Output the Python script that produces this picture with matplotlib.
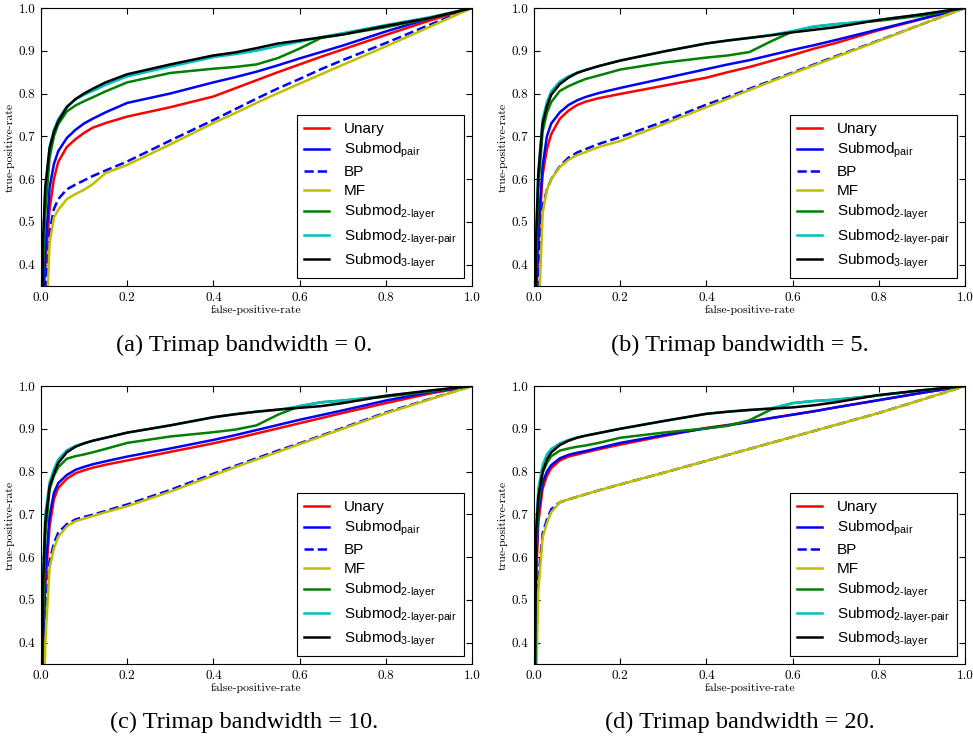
import matplotlib
matplotlib.use("Agg")
import matplotlib.pyplot as plt

plt.rcParams['mathtext.fontset'] = 'custom'
plt.rcParams['mathtext.rm'] = 'Liberation Sans'
plt.rcParams['mathtext.it'] = 'Liberation Sans'
plt.rcParams['axes.formatter.use_mathtext'] = False

# common false-positive-rate grid shared by every curve
fpr = [0, 0.005, 0.01, 0.02, 0.03, 0.04, 0.06, 0.08, 0.1, 0.12, 0.15, 0.2,
       0.3, 0.4, 0.45, 0.5, 0.55, 0.6, 0.65, 0.7, 0.8, 0.9, 1.0]

labels = ['Unary', 'Submod$_{\\mathrm{pair}}$', 'BP', 'MF',
          'Submod$_{\\text{2-layer}}$', 'Submod$_{\\text{2-layer-pair}}$',
          'Submod$_{\\text{3-layer}}$']
colors = ['r', 'b', 'b', 'y', 'g', 'c', 'k']
styles = ['-', '-', '--', '-', '-', '-', '-']

captions = ['(a) Trimap bandwidth = 0.', '(b) Trimap bandwidth = 5.',
            '(c) Trimap bandwidth = 10.', '(d) Trimap bandwidth = 20.']

# (a) bandwidth 0
a_unary = [0, 0.30, 0.40, 0.53, 0.60, 0.64, 0.675, 0.693, 0.708, 0.72, 0.731, 0.746,
           0.768, 0.793, 0.812, 0.831, 0.85, 0.868, 0.886, 0.903, 0.937, 0.970, 1.0]
a_pair = [0, 0.33, 0.43, 0.58, 0.635, 0.665, 0.696, 0.715, 0.73, 0.741, 0.756, 0.778,
          0.80, 0.826, 0.838, 0.851, 0.866, 0.882, 0.897, 0.912, 0.945, 0.975, 1.0]
a_bp = [0, 0.20, 0.33, 0.477, 0.53, 0.553, 0.576, 0.587, 0.597, 0.607, 0.62, 0.641,
        0.69, 0.738, 0.763, 0.788, 0.812, 0.834, 0.857, 0.878, 0.918, 0.96, 1.0]
a_mf = [0, 0.05, 0.20, 0.45, 0.51, 0.528, 0.553, 0.565, 0.575, 0.588, 0.614, 0.633,
        0.681, 0.731, 0.754, 0.778, 0.801, 0.823, 0.845, 0.867, 0.91, 0.955, 1.0]
a_two = [0, 0.40, 0.52, 0.65, 0.70, 0.728, 0.758, 0.772, 0.782, 0.791, 0.805, 0.826,
         0.848, 0.858, 0.862, 0.868, 0.883, 0.905, 0.93, 0.938, 0.955, 0.975, 1.0]
a_twopair = [0, 0.45, 0.58, 0.675, 0.715, 0.74, 0.77, 0.786, 0.797, 0.806, 0.82, 0.84,
             0.863, 0.885, 0.892, 0.90, 0.911, 0.921, 0.932, 0.941, 0.96, 0.978, 1.0]
a_three = [0, 0.46, 0.58, 0.672, 0.71, 0.735, 0.768, 0.787, 0.80, 0.811, 0.826, 0.845,
           0.868, 0.889, 0.896, 0.906, 0.917, 0.924, 0.931, 0.938, 0.958, 0.976, 1.0]

# (b) bandwidth 5
b_unary = [0, 0.30, 0.45, 0.61, 0.67, 0.705, 0.741, 0.76, 0.773, 0.781, 0.789, 0.799,
           0.818, 0.837, 0.85, 0.862, 0.876, 0.89, 0.905, 0.918, 0.948, 0.974, 1.0]
b_pair = [0, 0.33, 0.48, 0.63, 0.70, 0.73, 0.756, 0.773, 0.784, 0.792, 0.801, 0.813,
          0.835, 0.857, 0.868, 0.878, 0.89, 0.902, 0.913, 0.925, 0.95, 0.975, 1.0]
b_bp = [0, 0.25, 0.40, 0.535, 0.575, 0.60, 0.63, 0.65, 0.662, 0.67, 0.682, 0.698,
        0.734, 0.774, 0.792, 0.811, 0.83, 0.849, 0.868, 0.887, 0.924, 0.962, 1.0]
b_mf = [0, 0.05, 0.25, 0.52, 0.575, 0.60, 0.628, 0.645, 0.656, 0.663, 0.675, 0.689,
        0.728, 0.768, 0.788, 0.808, 0.828, 0.847, 0.866, 0.885, 0.923, 0.962, 1.0]
b_two = [0, 0.40, 0.58, 0.711, 0.755, 0.78, 0.806, 0.817, 0.826, 0.834, 0.842, 0.856,
         0.872, 0.884, 0.889, 0.897, 0.922, 0.945, 0.956, 0.962, 0.97, 0.982, 1.0]
b_twopair = [0, 0.47, 0.62, 0.74, 0.78, 0.805, 0.828, 0.84, 0.849, 0.855, 0.864, 0.877,
             0.898, 0.917, 0.924, 0.93, 0.937, 0.946, 0.957, 0.962, 0.972, 0.985, 1.0]
b_three = [0, 0.46, 0.61, 0.73, 0.77, 0.797, 0.822, 0.837, 0.848, 0.855, 0.864, 0.877,
           0.898, 0.917, 0.924, 0.93, 0.936, 0.943, 0.949, 0.955, 0.972, 0.985, 1.0]

# (c) bandwidth 10
c_unary = [0, 0.38, 0.53, 0.672, 0.735, 0.762, 0.783, 0.796, 0.803, 0.809, 0.816, 0.826,
           0.846, 0.866, 0.877, 0.889, 0.901, 0.913, 0.925, 0.937, 0.96, 0.982, 1.0]
c_pair = [0, 0.40, 0.56, 0.696, 0.75, 0.773, 0.792, 0.804, 0.811, 0.817, 0.824, 0.835,
          0.854, 0.874, 0.885, 0.897, 0.909, 0.921, 0.932, 0.943, 0.966, 0.985, 1.0]
c_bp = [0, 0.30, 0.46, 0.59, 0.632, 0.657, 0.677, 0.688, 0.694, 0.699, 0.708, 0.723,
        0.757, 0.795, 0.813, 0.831, 0.849, 0.866, 0.884, 0.902, 0.938, 0.969, 1.0]
c_mf = [0, 0.15, 0.40, 0.575, 0.62, 0.647, 0.672, 0.684, 0.69, 0.696, 0.705, 0.719,
        0.753, 0.791, 0.81, 0.828, 0.846, 0.864, 0.882, 0.90, 0.936, 0.968, 1.0]
c_two = [0, 0.45, 0.65, 0.758, 0.79, 0.81, 0.83, 0.836, 0.84, 0.845, 0.853, 0.867,
         0.882, 0.892, 0.898, 0.908, 0.933, 0.953, 0.962, 0.966, 0.975, 0.987, 1.0]
c_twopair = [0, 0.56, 0.70, 0.775, 0.805, 0.828, 0.85, 0.86, 0.866, 0.872, 0.879, 0.891,
             0.908, 0.927, 0.934, 0.94, 0.944, 0.953, 0.962, 0.966, 0.977, 0.989, 1.0]
c_three = [0, 0.54, 0.68, 0.765, 0.795, 0.82, 0.845, 0.858, 0.866, 0.872, 0.879, 0.891,
           0.908, 0.927, 0.934, 0.94, 0.945, 0.949, 0.953, 0.96, 0.977, 0.989, 1.0]

# (d) bandwidth 20
d_unary = [0, 0.55, 0.68, 0.76, 0.79, 0.808, 0.826, 0.835, 0.84, 0.845, 0.852, 0.863,
           0.883, 0.902, 0.909, 0.917, 0.925, 0.933, 0.941, 0.95, 0.967, 0.984, 1.0]
d_pair = [0, 0.58, 0.70, 0.774, 0.80, 0.815, 0.831, 0.839, 0.844, 0.848, 0.855, 0.867,
          0.885, 0.901, 0.908, 0.916, 0.925, 0.933, 0.941, 0.95, 0.967, 0.984, 1.0]
d_bp = [0, 0.40, 0.55, 0.655, 0.688, 0.712, 0.728, 0.735, 0.741, 0.747, 0.756, 0.77,
        0.797, 0.825, 0.839, 0.853, 0.867, 0.881, 0.895, 0.909, 0.937, 0.968, 1.0]
d_mf = [0, 0.30, 0.52, 0.645, 0.68, 0.705, 0.728, 0.735, 0.741, 0.747, 0.756, 0.77,
        0.797, 0.825, 0.839, 0.853, 0.867, 0.881, 0.895, 0.909, 0.937, 0.968, 1.0]
d_two = [0, 0.62, 0.72, 0.797, 0.82, 0.836, 0.849, 0.854, 0.858, 0.861, 0.867, 0.879,
         0.891, 0.901, 0.907, 0.92, 0.945, 0.96, 0.965, 0.968, 0.978, 0.99, 1.0]
d_twopair = [0, 0.67, 0.76, 0.815, 0.84, 0.853, 0.866, 0.874, 0.88, 0.884, 0.89, 0.90,
             0.918, 0.935, 0.94, 0.944, 0.948, 0.96, 0.965, 0.968, 0.978, 0.99, 1.0]
d_three = [0, 0.66, 0.74, 0.80, 0.828, 0.845, 0.862, 0.872, 0.879, 0.884, 0.89, 0.90,
           0.918, 0.935, 0.94, 0.944, 0.947, 0.95, 0.955, 0.962, 0.979, 0.99, 1.0]

panels = [
    [a_unary, a_pair, a_bp, a_mf, a_two, a_twopair, a_three],
    [b_unary, b_pair, b_bp, b_mf, b_two, b_twopair, b_three],
    [c_unary, c_pair, c_bp, c_mf, c_two, c_twopair, c_three],
    [d_unary, d_pair, d_bp, d_mf, d_two, d_twopair, d_three],
]

fig = plt.figure(figsize=(9.73, 7.51), dpi=100)
boxes = [[0.0421, 0.6192, 0.443, 0.3702], [0.5488, 0.6192, 0.443, 0.3702],
         [0.0421, 0.1158, 0.443, 0.3702], [0.5488, 0.1158, 0.443, 0.3702]]
cap_pos = [(0.251, 0.540), (0.760, 0.540), (0.251, 0.038), (0.760, 0.038)]

for k in range(4):
    ax = fig.add_axes(boxes[k])
    for s in range(7):
        ax.plot(fpr, panels[k][s], color=colors[s], linestyle=styles[s],
                linewidth=1.8, label=labels[s])
    ax.set_xlim(0, 1)
    ax.set_ylim(0.35, 1.0)
    ax.set_xticks([0, 0.2, 0.4, 0.6, 0.8, 1.0])
    ax.set_yticks([0.4, 0.5, 0.6, 0.7, 0.8, 0.9, 1.0])
    ax.set_xticklabels(['0.0', '0.2', '0.4', '0.6', '0.8', '1.0'], family='cmr10', fontsize=9.5)
    ax.set_yticklabels(['0.4', '0.5', '0.6', '0.7', '0.8', '0.9', '1.0'], family='cmr10', fontsize=9.5)
    ax.tick_params(direction='in', top=True, right=True, length=4, width=0.8, pad=4)
    ax.set_xlabel('false-positive-rate', family='cmr10', fontsize=8.5, labelpad=1)
    ax.set_ylabel('true-positive-rate', family='cmr10', fontsize=8.5, labelpad=3)
    leg = ax.legend(loc='lower right', fancybox=False, framealpha=1,
                    edgecolor='black', handlelength=1.6, labelspacing=0.32,
                    borderpad=0.5, handletextpad=1.0,
                    prop={'family': 'Liberation Sans', 'size': 11})
    leg.get_frame().set_linewidth(0.8)
    fig.text(cap_pos[k][0], cap_pos[k][1], captions[k], ha='center', va='center',
             family='Liberation Serif', fontsize=17.5)

fig.savefig('out.png', dpi=100)
